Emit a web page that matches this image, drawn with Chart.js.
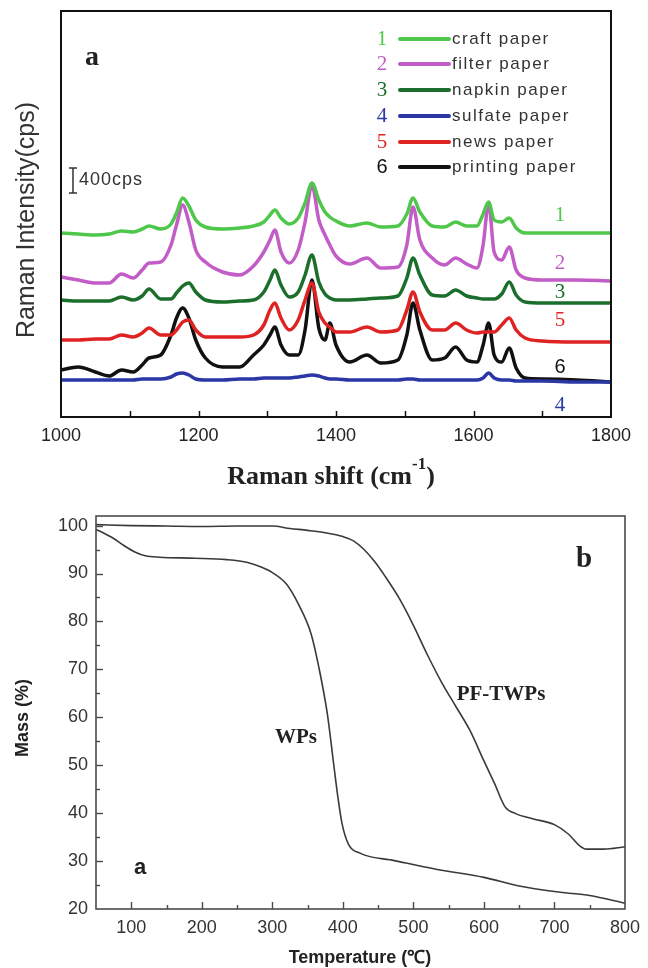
<!DOCTYPE html>
<html>
<head>
<meta charset="utf-8">
<script src="https://cdn.jsdelivr.net/npm/chart.js@4.4.0/dist/chart.umd.min.js"></script>
<style>
body { margin: 0; background: #fff; width: 648px; height: 968px; position: relative; overflow: hidden; }
#ramanChart { position: absolute; left: 0; top: 0; }
#tgaChart { position: absolute; left: 0; top: 490px; }
</style>
</head>
<body>
<canvas id="ramanChart" width="648" height="496"></canvas>
<canvas id="tgaChart" width="648" height="478"></canvas>
<script>
// --- panel a: Raman spectra (offset intensities, 1 unit = 16 cps) ---
const shift = [1000,1025,1050,1070,1088,1105,1118,1128,1145,1160,1168,1177,1186,1196,1210,1235,1260,1280,1295,1304,1311,1320,1332,1345,1355,1365,1375,1384,1391,1400,1420,1445,1465,1490,1503,1512,1522,1540,1558,1574,1590,1605,1614,1622,1630,1641,1652,1662,1675,1700,1750,1800];
const craft = [184,183,182,183,186,185,188,191,188,193,204,219,211,197,190,188,189,191,195,202,207,199,193,199,214,234,217,205,200,196,191,194,190,191,203,219,205,191,190,195,191,191,203,215,197,195,199,189,184,184,184,184];
const filter = [140,137,134,134,143,139,147,154,155,172,192,212,195,167,155,145,142,151,165,177,187,165,154,167,195,232,197,182,172,161,153,159,149,150,172,210,177,159,152,159,153,149,172,214,165,157,170,147,139,137,137,136];
const napkin = [117,116,116,116,120,117,121,128,118,118,124,131,134,125,117,115,116,117,125,137,147,132,120,125,142,162,135,123,119,117,117,118,119,121,139,159,142,122,121,127,121,119,118,118,118,123,135,122,115,114,114,114];
const sulfate = [37,37,37,37,37,37,38,38,38,40,43,44,42,38,37,37,38,38,39,39,39,39,39,40,41,42,41,39,38,38,37,37,37,37,38,38,37,37,37,37,37,37,39,44,39,37,37,36,36,36,35,35];
const news = [77,77,78,78,82,80,84,89,82,82,87,95,97,87,80,80,80,82,92,107,114,99,87,97,117,134,105,94,90,85,85,90,85,87,107,125,105,87,87,94,87,84,85,85,85,92,99,87,79,76,75,75];
const printing = [47,50,45,41,47,45,52,59,62,82,99,109,99,77,59,50,50,62,72,82,90,72,62,62,87,137,89,77,94,72,55,62,54,57,82,114,87,57,59,70,57,55,72,94,62,55,69,49,39,38,37,35];
const paperNames = ['craft paper', 'filter paper', 'napkin paper', 'sulfate paper', 'news paper', 'printing paper'];
const paperNums = ['1', '2', '3', '4', '5', '6'];
const ramanTickLabels = [1000, 1200, 1400, 1600, 1800];
const scaleBarTop = 249;   // top of the 400 cps bar
const scaleBarSize = 25;   // 400 cps

// --- panel b: TGA ---
const wpsTemp = [50,60,75,90,105,120,140,190,235,265,285,300,320,337,355,366,378,387,393,399,408,425,473,532,600,650,708,750,800];
const wpsMass = [99.2,98.5,97.3,95.8,94.5,93.7,93.4,93.2,92.9,92.3,91.3,90.2,87.8,83.6,77.4,70.4,60.7,50.2,43.3,37.7,33.5,31.6,30.1,28.3,26.6,24.8,23.5,22.8,21.2];
const pfTemp = [50,100,150,200,250,300,325,350,375,400,415,430,445,460,480,500,520,540,560,580,600,615,630,645,670,700,720,735,745,770,800];
const pfMass = [100.2,100,99.9,99.8,99.9,99.9,99.4,99.0,98.5,97.7,96.8,95.0,92.5,89.4,84.8,79.2,73.0,67.3,62.3,57.3,50.9,46.2,41.3,39.9,38.8,37.6,35.6,33.3,32.5,32.5,33.0];
const tempTickLabels = [100, 200, 300, 400, 500, 600, 700, 800];
const massTickLabels = [20, 30, 40, 50, 60, 70, 80, 90, 100];

const paperColors = ['#4fc74a', '#c25cc6', '#1c6e2c', '#2a37a4', '#df2323', '#111111'];
const legendY = [39, 64, 90, 116, 142, 167];
const sideY = [215, 263, 292, 405, 320, 367];
const SANS = '"Liberation Sans", Arial, sans-serif';
const SERIF = '"Liberation Serif", "Times New Roman", serif';

function drawText(ctx, s, x, y, font, color, align, spacing) {
  ctx.font = font;
  ctx.fillStyle = color;
  ctx.textAlign = align || 'center';
  ctx.textBaseline = 'middle';
  ctx.letterSpacing = spacing || '0px';
  ctx.fillText(s, x, y);
  ctx.letterSpacing = '0px';
}

function numFont(i) {
  return i === 5 ? '20px ' + SANS : '21px ' + SERIF;
}

const ramanDecor = {
  id: 'ramanDecor',
  afterDraw(chart) {
    const ctx = chart.ctx, a = chart.chartArea, xs = chart.scales.x, ys = chart.scales.y;
    ctx.save();
    ctx.strokeStyle = '#111';
    ctx.lineWidth = 2;
    ctx.strokeRect(a.left, a.top, a.right - a.left, a.bottom - a.top);
    ctx.lineWidth = 1.5;
    xs.ticks.forEach(t => {
      const px = Math.round(xs.getPixelForValue(t.value)) + 0.5;
      if (px <= a.left + 2 || px >= a.right - 2) return;
      ctx.beginPath();
      ctx.moveTo(px, a.bottom);
      ctx.lineTo(px, a.bottom - 6);
      ctx.stroke();
    });

    // scale bar
    const y1 = ys.getPixelForValue(scaleBarTop), y2 = ys.getPixelForValue(scaleBarTop - scaleBarSize);
    ctx.strokeStyle = '#333';
    ctx.lineWidth = 1.5;
    ctx.beginPath();
    ctx.moveTo(73, y1); ctx.lineTo(73, y2);
    ctx.moveTo(69, y1); ctx.lineTo(77, y1);
    ctx.moveTo(69, y2); ctx.lineTo(77, y2);
    ctx.stroke();
    drawText(ctx, '400cps', 79, (y1 + y2) / 2, '18px ' + SANS, '#333', 'left', '1px');

    // legend and curve numbers
    paperNames.forEach((n, i) => {
      const y = legendY[i];
      drawText(ctx, paperNums[i], 382, y, numFont(i), paperColors[i]);
      ctx.strokeStyle = paperColors[i];
      ctx.lineWidth = 4;
      ctx.lineCap = 'round';
      ctx.beginPath();
      ctx.moveTo(400, y);
      ctx.lineTo(449, y);
      ctx.stroke();
      drawText(ctx, n, 452, y, '17px ' + SANS, '#333', 'left', '1.5px');
      drawText(ctx, paperNums[i], 560, sideY[i], numFont(i), paperColors[i]);
    });

    drawText(ctx, 'a', 92, 58, 'bold 28px ' + SERIF, '#222');

    // y title
    ctx.save();
    ctx.translate(27, 220);
    ctx.rotate(-Math.PI / 2);
    drawText(ctx, 'Raman Intensity(cps)', 0, 0, '25px ' + SANS, '#333');
    ctx.restore();

    // x title with superscript
    const base = 'Raman shift (cm';
    ctx.font = 'bold 26px ' + SERIF;
    const w1 = ctx.measureText(base).width, w3 = ctx.measureText(')').width;
    ctx.font = 'bold 17px ' + SERIF;
    const w2 = ctx.measureText('-1').width;
    let x0 = 331 - (w1 + w2 + w3) / 2;
    ctx.fillStyle = '#222';
    ctx.textAlign = 'left';
    ctx.textBaseline = 'alphabetic';
    ctx.font = 'bold 26px ' + SERIF;
    ctx.fillText(base, x0, 484);
    ctx.font = 'bold 17px ' + SERIF;
    ctx.fillText('-1', x0 + w1, 469);
    ctx.font = 'bold 26px ' + SERIF;
    ctx.fillText(')', x0 + w1 + w2, 484);
    ctx.restore();
  }
};

const ramanSeries = [craft, filter, napkin, sulfate, news, printing];

new Chart(document.getElementById('ramanChart'), {
  type: 'line',
  data: {
    datasets: ramanSeries.map((vals, i) => ({
      label: paperNames[i],
      data: shift.map((s, k) => ({ x: s, y: vals[k] })),
      borderColor: paperColors[i],
      borderWidth: 3.5,
      cubicInterpolationMode: 'monotone',
      pointRadius: 0,
      fill: false
    }))
  },
  options: {
    responsive: false,
    animation: false,
    layout: { padding: { left: 61, right: 37, top: 11, bottom: 39 } },
    plugins: { legend: { display: false }, tooltip: { enabled: false } },
    scales: {
      x: {
        type: 'linear',
        min: 1000,
        max: 1800,
        grid: { display: false, drawTicks: false },
        border: { display: false },
        ticks: {
          stepSize: 100,
          autoSkip: false,
          maxRotation: 0,
          padding: 8,
          color: '#222',
          font: { family: SANS, size: 18 },
          callback: v => ramanTickLabels.includes(v) ? v : ''
        },
        afterFit: s => { s.height = 40; }
      },
      y: { display: false, min: 0, max: 406 }
    }
  },
  plugins: [ramanDecor]
});

const tgaDecor = {
  id: 'tgaDecor',
  afterDraw(chart) {
    const ctx = chart.ctx, a = chart.chartArea, xs = chart.scales.x, ys = chart.scales.y;
    ctx.save();
    ctx.strokeStyle = '#4a4a4a';
    ctx.lineWidth = 1.6;
    ctx.strokeRect(a.left, a.top, a.right - a.left, a.bottom - a.top);
    ctx.lineWidth = 1.4;
    xs.ticks.forEach(t => {
      const px = Math.round(xs.getPixelForValue(t.value)) + 0.5;
      if (px <= a.left + 2 || px >= a.right - 2) return;
      const len = t.value % 100 === 0 ? 7 : 4;
      ctx.beginPath();
      ctx.moveTo(px, a.bottom);
      ctx.lineTo(px, a.bottom - len);
      ctx.stroke();
    });
    ys.ticks.forEach(t => {
      const py = Math.round(ys.getPixelForValue(t.value)) + 0.5;
      if (py >= a.bottom - 2 || py <= a.top + 2) return;
      const len = t.value % 10 === 0 ? 7 : 4;
      ctx.beginPath();
      ctx.moveTo(a.left, py);
      ctx.lineTo(a.left + len, py);
      ctx.stroke();
    });

    drawText(ctx, 'WPs', 296, 248, 'bold 21px ' + SERIF, '#222');
    drawText(ctx, 'PF-TWPs', 501, 205, 'bold 21px ' + SERIF, '#222');
    drawText(ctx, 'b', 584, 70, 'bold 29px ' + SERIF, '#222');
    drawText(ctx, 'a', 140, 378, 'bold 22px ' + SANS, '#222');

    drawText(ctx, 'Temperature (\u2103)', 360, 468, 'bold 18px ' + SANS, '#222');
    ctx.save();
    ctx.translate(23, 228);
    ctx.rotate(-Math.PI / 2);
    drawText(ctx, 'Mass (%)', 0, 0, 'bold 18px ' + SANS, '#222');
    ctx.restore();
    ctx.restore();
  }
};

new Chart(document.getElementById('tgaChart'), {
  type: 'line',
  data: {
    datasets: [
      {
        label: 'WPs',
        data: wpsTemp.map((t, k) => ({ x: t, y: wpsMass[k] })),
        borderColor: '#3a3a3a',
        borderWidth: 1.6,
        cubicInterpolationMode: 'monotone',
        pointRadius: 0
      },
      {
        label: 'PF-TWPs',
        data: pfTemp.map((t, k) => ({ x: t, y: pfMass[k] })),
        borderColor: '#3a3a3a',
        borderWidth: 1.6,
        cubicInterpolationMode: 'monotone',
        pointRadius: 0
      }
    ]
  },
  options: {
    responsive: false,
    animation: false,
    layout: { padding: { left: 0, right: 23, top: 26, bottom: 0 } },
    plugins: { legend: { display: false }, tooltip: { enabled: false } },
    scales: {
      x: {
        type: 'linear',
        min: 50,
        max: 800,
        grid: { display: false, drawTicks: false },
        border: { display: false },
        ticks: {
          stepSize: 50,
          autoSkip: false,
          maxRotation: 0,
          padding: 8,
          color: '#333',
          font: { family: SANS, size: 18 },
          callback: v => tempTickLabels.includes(v) ? v : ''
        },
        afterFit: s => { s.height = 59; }
      },
      y: {
        min: 20,
        max: 102,
        grid: { display: false, drawTicks: false },
        border: { display: false },
        afterBuildTicks: s => { s.ticks = s.ticks.filter(t => t.value % 5 === 0); },
        ticks: {
          stepSize: 5,
          includeBounds: false,
          autoSkip: false,
          padding: 8,
          color: '#333',
          font: { family: SANS, size: 18 },
          callback: v => massTickLabels.includes(v) ? v : ''
        },
        afterFit: s => { s.width = 96; }
      }
    }
  },
  plugins: [tgaDecor]
});
</script>
</body>
</html>
